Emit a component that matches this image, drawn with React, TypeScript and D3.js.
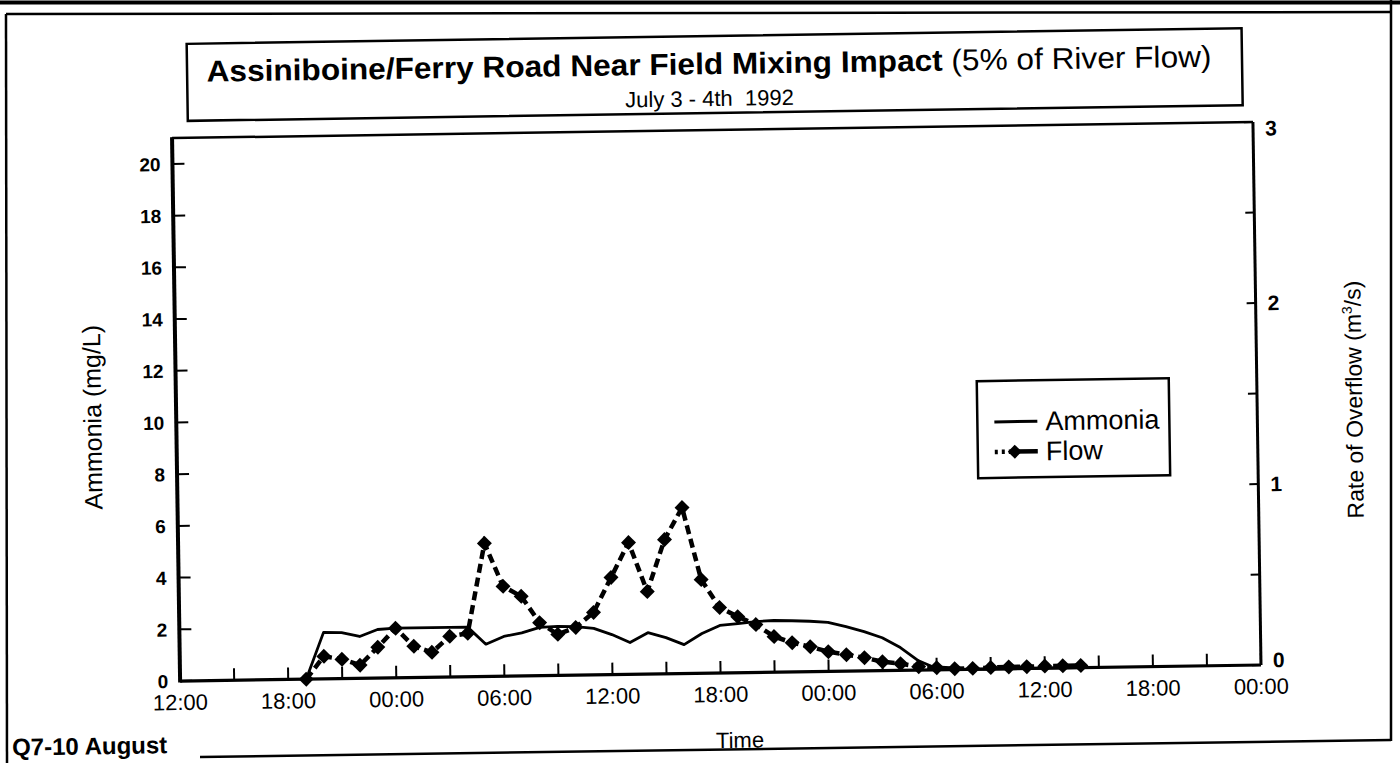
import React from 'react';
import * as d3 from 'd3';

// Hours since 12:00 on July 3 (x axis spans 60 h, ticks every 3 h)
const timeLabels = ['12:00', '18:00', '00:00', '06:00', '12:00', '18:00', '00:00', '06:00', '12:00', '18:00', '00:00'];
const labelHours = [0, 6, 12, 18, 24, 30, 36, 42, 48, 54, 60];
const tickHours = [0, 3, 6, 9, 12, 15, 18, 21, 24, 27, 30, 33, 36, 39, 42, 45, 48, 51, 54, 57, 60];

const hours = [7, 8, 9, 10, 11, 12, 13, 14, 15, 16, 17, 18, 19, 20, 21, 22, 23, 24, 25, 26, 27, 28, 29, 30,
  31, 32, 33, 34, 35, 36, 37, 38, 39, 40, 41, 42, 43, 44, 45, 46, 47, 48, 49, 50];

// Ammonia (mg/L), left axis
const ammonia = [0, 1.8, 1.78, 1.62, 1.88, 1.92, 1.92, 1.92, 1.92, 1.92, 1.25, 1.54, 1.67, 1.87, 1.9, 1.88,
  1.8, 1.55, 1.23, 1.6, 1.4, 1.12, 1.54, 1.84, 1.9, 1.97, 2.0, 1.98, 1.95, 1.9, 1.72, 1.52, 1.27, 0.88,
  0.36, 0.05, 0, 0, 0, 0, 0, 0, 0, 0];

// Flow, rate of overflow (m3/s), right axis
const flow = [0, 0.125, 0.107, 0.073, 0.171, 0.274, 0.173, 0.138, 0.225, 0.24, 0.736, 0.497, 0.44, 0.293,
  0.227, 0.264, 0.345, 0.537, 0.728, 0.456, 0.742, 0.917, 0.518, 0.362, 0.31, 0.265, 0.197, 0.162, 0.138,
  0.109, 0.091, 0.073, 0.049, 0.037, 0.019, 0.012, 0.005, 0.005, 0.008, 0.01, 0.01, 0.012, 0.012, 0.012];

const leftTicks = [0, 2, 4, 6, 8, 10, 12, 14, 16, 18, 20];
const rightTicks = [0, 0.5, 1, 1.5, 2, 2.5, 3];
const rightLabels = [0, 1, 2, 3];

const FONT = '"Liberation Sans", Arial, Helvetica, sans-serif';

export default function App() {
  const W = 1400;
  const H = 763;
  const plot = { l: 176, r: 1257, t: 130, b: 673 };
  const x = d3.scaleLinear().domain([0, 60]).range([plot.l, plot.r]);
  const yL = d3.scaleLinear().domain([0, 21]).range([plot.b, plot.t]);
  const yR = d3.scaleLinear().domain([0, 3]).range([plot.b, plot.t]);

  const ammLine = d3.line<number>().x((_, i) => x(hours[i])).y((d) => yL(d));
  const flowLine = d3.line<number>().x((_, i) => x(hours[i])).y((d) => yR(d));
  const diamond = (cx: number, cy: number, r: number) =>
    `M${cx},${cy - r}L${cx + r},${cy}L${cx},${cy + r}L${cx - r},${cy}Z`;

  const leg = { x: 977, y: 385, w: 192, h: 97 };
  const rightLabelShift = (t: number) => (t === 3 ? 6 : t === 0 ? -5 : 0);

  return (
    <svg width={W} height={H} viewBox={`0 0 ${W} ${H}`}
      style={{ position: 'absolute', left: 0, top: 0, background: '#fff' }}
      fontFamily={FONT}>
      <rect x={0} y={0} width={W} height={H} fill="#fff" />

      {/* page frame (scanned sheet borders) */}
      <line x1={0} y1={2.5} x2={W} y2={2.5} stroke="#000" strokeWidth={4} />
      <line x1={6} y1={14} x2={1391} y2={12} stroke="#000" strokeWidth={2.5} />
      <line x1={6} y1={14} x2={7} y2={H} stroke="#000" strokeWidth={2.5} />
      <line x1={1391} y1={0} x2={1391} y2={741} stroke="#000" strokeWidth={2.5} />
      <line x1={200} y1={757} x2={1391} y2={740} stroke="#000" strokeWidth={2.5} />

      <g transform="rotate(-0.85, 720, 400)">
        {/* title box */}
        <rect x={192} y={36} width={1055} height={77} fill="#fff" stroke="#000" strokeWidth={2.5} />
        <text x={714} y={74} textAnchor="middle" fontSize={30} textLength={1005} lengthAdjust="spacingAndGlyphs">
          <tspan fontWeight="bold">Assiniboine/Ferry Road Near Field Mixing Impact</tspan>
          <tspan> (5% of River Flow)</tspan>
        </text>
        <text x={714} y={106} textAnchor="middle" fontSize={22} style={{ whiteSpace: 'pre' }}>{'July 3 - 4th  1992'}</text>

        {/* plot frame */}
        <line x1={plot.l} y1={plot.t} x2={plot.r} y2={plot.t} stroke="#000" strokeWidth={2.5} />
        <line x1={plot.r} y1={plot.t} x2={plot.r} y2={plot.b} stroke="#000" strokeWidth={3} />
        <line x1={plot.l} y1={plot.b} x2={plot.r} y2={plot.b} stroke="#000" strokeWidth={3.2} />
        <line x1={plot.l} y1={plot.t - 1} x2={plot.l} y2={plot.b + 1.5} stroke="#000" strokeWidth={4} />

        {/* left axis ticks & labels */}
        {leftTicks.map((t) => (
          <g key={'l' + t}>
            <line x1={plot.l} x2={plot.l + 12} y1={yL(t)} y2={yL(t)} stroke="#000" strokeWidth={2} />
            <text x={plot.l - 12} y={yL(t) + 7} textAnchor="end" fontSize={19} fontWeight="bold">{t}</text>
          </g>
        ))}

        {/* right axis ticks & labels */}
        {rightTicks.map((t) => (
          <line key={'r' + t} x1={plot.r - 9} x2={plot.r} y1={yR(t)} y2={yR(t)} stroke="#000" strokeWidth={2} />
        ))}
        {rightLabels.map((t) => (
          <text key={'rl' + t} x={plot.r + 12} y={yR(t) + 7.5 + rightLabelShift(t)} fontSize={21} fontWeight="bold">{t}</text>
        ))}

        {/* x axis ticks & labels */}
        {tickHours.map((h) => (
          <line key={'x' + h} x1={x(h)} x2={x(h)} y1={plot.b} y2={plot.b - 12} stroke="#000" strokeWidth={2} />
        ))}
        {labelHours.map((h, i) => (
          <text key={'xl' + h} x={x(h)} y={plot.b + 29} textAnchor="middle" fontSize={22}>{timeLabels[i]}</text>
        ))}

        {/* axis titles */}
        <text x={735} y={748} textAnchor="middle" fontSize={22}>Time</text>
        <text transform="translate(101, 408) rotate(-90)" textAnchor="middle" fontSize={25}>Ammonia (mg/L)</text>
        <text transform="translate(1362, 409) rotate(-90)" textAnchor="middle" fontSize={23}>
          Rate of Overflow (m<tspan fontSize={14} dy={-9}>3</tspan><tspan dy={9}>/s)</tspan>
        </text>
        <text x={7} y={745} fontSize={24} fontWeight="bold">Q7-10 August</text>

        {/* series */}
        <path d={ammLine(ammonia) || ''} fill="none" stroke="#000" strokeWidth={2.8} strokeLinejoin="round" />
        <path d={flowLine(flow) || ''} fill="none" stroke="#000" strokeWidth={4.5} strokeDasharray="9 5" />
        {flow.map((v, i) => (
          <path key={'d' + i} d={diamond(x(hours[i]), yR(v), 7.5)} fill="#000" />
        ))}

        {/* legend */}
        <rect x={leg.x} y={leg.y} width={leg.w} height={leg.h} fill="#fff" stroke="#000" strokeWidth={2.5} />
        <line x1={leg.x + 17} x2={leg.x + 60} y1={leg.y + 41} y2={leg.y + 41} stroke="#000" strokeWidth={3} />
        <text x={leg.x + 68} y={leg.y + 50} fontSize={27}>Ammonia</text>
        <line x1={leg.x + 17} x2={leg.x + 60} y1={leg.y + 71} y2={leg.y + 71} stroke="#000" strokeWidth={4.5} strokeDasharray="3 4 3 4 30" />
        <path d={diamond(leg.x + 37, leg.y + 71, 7)} fill="#000" />
        <text x={leg.x + 68} y={leg.y + 80} fontSize={27}>Flow</text>
      </g>
    </svg>
  );
}
